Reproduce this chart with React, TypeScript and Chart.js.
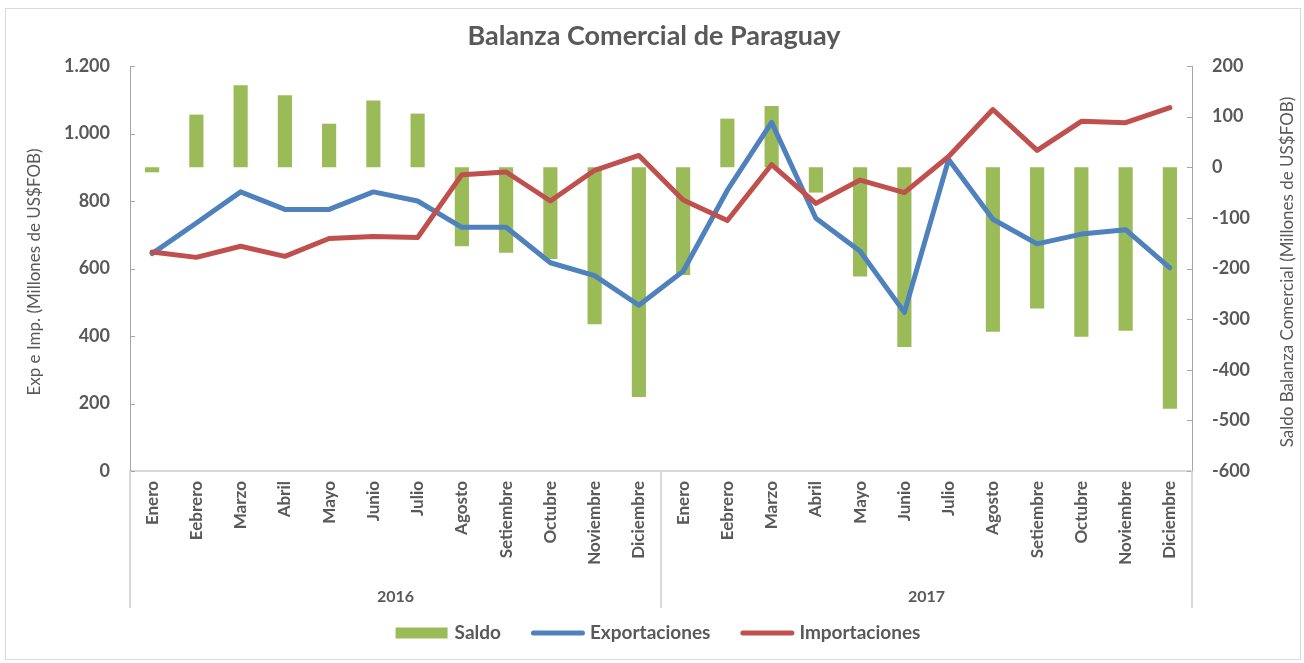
import React, { useEffect, useRef } from 'react';
import { Chart, registerables } from 'chart.js';

Chart.register(...registerables);

// Month labels (as printed on the axis) and the two year groups
const months = [
  'Enero', 'Eebrero', 'Marzo', 'Abril', 'Mayo', 'Junio',
  'Julio', 'Agosto', 'Setiembre', 'Octubre', 'Noviembre', 'Diciembre',
];
const years = ['2016', '2017'];
const categories = years.flatMap(() => months);

// Millones de US$ FOB
const saldo = [
  -10, 104, 162, 142, 86, 132, 106, -156, -169, -181, -310, -454,
  -213, 96, 121, -50, -216, -355, 0, -325, -279, -335, -323, -477,
];
const exportaciones = [
  644, 735, 827, 775, 775, 827, 800, 722, 722, 617, 579, 491,
  592, 832, 1033, 749, 651, 470, 923, 746, 673, 702, 715, 602,
];
const importaciones = [
  649, 633, 666, 636, 689, 695, 692, 878, 886, 800, 891, 935,
  803, 742, 908, 793, 862, 825, 932, 1071, 950, 1036, 1032, 1077,
];

const leftTicks = [0, 200, 400, 600, 800, 1000, 1200];
const rightTicks = [-600, -500, -400, -300, -200, -100, 0, 100, 200];

const TITLE = 'Balanza Comercial de Paraguay';
const LEFT_TITLE = 'Exp e Imp. (Millones de US$FOB)';
const RIGHT_TITLE = 'Saldo Balanza Comercial (Millones de US$FOB)';

const FONT = 'Lato, "Open Sans", "DejaVu Sans", sans-serif';
const TEXT = '#595959';
const GREEN = '#9bbb59';
const BLUE = '#4f81bd';
const RED = '#c0504d';
const AXIS = '#a6a6a6';
const LIGHT = '#d9d9d9';

const W = 1304;
const H = 663;

const fmtThousands = (v: number) =>
  String(v).replace(/\B(?=(\d{3})+(?!\d))/g, '.');

const decorations = {
  id: 'decorations',
  afterDraw(chart: any) {
    const { ctx, chartArea: a, scales } = chart;
    const xs = scales.x;
    ctx.save();

    // outer frame
    ctx.strokeStyle = LIGHT;
    ctx.lineWidth = 1;
    ctx.strokeRect(5.5, 8.5, 1295, 651);

    // title
    ctx.fillStyle = TEXT;
    ctx.textAlign = 'center';
    ctx.textBaseline = 'middle';
    ctx.font = `bold 27px ${FONT}`;
    ctx.fillText(TITLE, 654, 36);

    // axis titles, reading bottom to top
    ctx.font = `17px ${FONT}`;
    const vtext = (t: string, x: number, y: number) => {
      ctx.save();
      ctx.translate(x, y);
      ctx.rotate(-Math.PI / 2);
      ctx.fillText(t, 0, 0);
      ctx.restore();
    };
    vtext(LEFT_TITLE, 35, 272);
    vtext(RIGHT_TITLE, 1288, 272);

    // inside tick marks on both value axes
    ctx.strokeStyle = AXIS;
    ctx.lineWidth = 1;
    ctx.beginPath();
    leftTicks.forEach((v) => {
      const y = Math.round(scales.y.getPixelForValue(v)) + 0.5;
      ctx.moveTo(a.left, y);
      ctx.lineTo(a.left + 5, y);
    });
    rightTicks.forEach((v) => {
      const y = Math.round(scales.y1.getPixelForValue(v)) + 0.5;
      ctx.moveTo(a.right, y);
      ctx.lineTo(a.right - 5, y);
    });
    ctx.stroke();

    // year group separators and labels
    const n = months.length;
    const bounds = [a.left];
    for (let g = 1; g < years.length; g++) {
      bounds.push((xs.getPixelForValue(g * n - 1) + xs.getPixelForValue(g * n)) / 2);
    }
    bounds.push(a.right);
    ctx.strokeStyle = LIGHT;
    ctx.lineWidth = 2;
    ctx.beginPath();
    bounds.forEach((x) => {
      ctx.moveTo(x, a.bottom);
      ctx.lineTo(x, 608);
    });
    ctx.stroke();
    ctx.fillStyle = TEXT;
    ctx.font = `bold 16px ${FONT}`;
    years.forEach((yr, g) => {
      const cx = (xs.getPixelForValue(g * n) + xs.getPixelForValue(g * n + n - 1)) / 2;
      ctx.fillText(yr, cx, 597);
    });

    // legend
    ctx.font = `bold 19px ${FONT}`;
    ctx.textAlign = 'left';
    const items = [
      { label: 'Saldo', kind: 'box', color: GREEN },
      { label: 'Exportaciones', kind: 'line', color: BLUE },
      { label: 'Importaciones', kind: 'line', color: RED },
    ];
    const symW = 54;
    const gapSym = 5;
    const gapItem = 30;
    const widths = items.map((it) => symW + gapSym + ctx.measureText(it.label).width);
    const total = widths.reduce((s, w) => s + w, 0) + gapItem * (items.length - 1);
    let x = 658 - total / 2;
    const ly = 633;
    items.forEach((it, i) => {
      if (it.kind === 'box') {
        ctx.fillStyle = it.color;
        ctx.fillRect(x, ly - 5.5, symW - 2, 11);
      } else {
        ctx.strokeStyle = it.color;
        ctx.lineWidth = 5;
        ctx.lineCap = 'round';
        ctx.beginPath();
        ctx.moveTo(x + 2.5, ly);
        ctx.lineTo(x + symW - 2.5, ly);
        ctx.stroke();
      }
      ctx.fillStyle = TEXT;
      ctx.fillText(it.label, x + symW + gapSym, ly);
      x += widths[i] + gapItem;
    });

    ctx.restore();
  },
};

export default function App() {
  const ref = useRef<HTMLCanvasElement>(null);

  useEffect(() => {
    if (!ref.current) return;
    const chart = new Chart(ref.current, {
      type: 'bar',
      data: {
        labels: categories,
        datasets: [
          {
            type: 'line',
            label: 'Importaciones',
            data: importaciones,
            yAxisID: 'y',
            borderColor: RED,
            backgroundColor: RED,
            borderWidth: 5,
            pointRadius: 0,
            tension: 0,
            borderJoinStyle: 'round',
            borderCapStyle: 'round',
            order: 0,
          },
          {
            type: 'line',
            label: 'Exportaciones',
            data: exportaciones,
            yAxisID: 'y',
            borderColor: BLUE,
            backgroundColor: BLUE,
            borderWidth: 5,
            pointRadius: 0,
            tension: 0,
            borderJoinStyle: 'round',
            borderCapStyle: 'round',
            order: 1,
          },
          {
            type: 'bar',
            label: 'Saldo',
            data: saldo,
            yAxisID: 'y1',
            backgroundColor: GREEN,
            barPercentage: 0.32,
            categoryPercentage: 1,
            order: 2,
          },
        ],
      } as any,
      options: {
        responsive: false,
        animation: false,
        layout: { padding: { top: 66, left: 0, right: 0, bottom: 0 } },
        plugins: {
          legend: { display: false },
          title: { display: false },
          tooltip: { enabled: false },
        },
        scales: {
          x: {
            grid: { display: false, drawTicks: false },
            border: { display: true, color: LIGHT, width: 2 },
            ticks: {
              autoSkip: false,
              maxRotation: 90,
              minRotation: 90,
              padding: 10,
              color: TEXT,
              font: { family: FONT, size: 17, weight: 'bold' },
            },
            afterFit: (s: any) => {
              s.height = 192;
            },
          },
          y: {
            position: 'left',
            min: 0,
            max: 1200,
            grid: { display: false, drawTicks: false },
            border: { display: true, color: AXIS, width: 1 },
            ticks: {
              stepSize: 200,
              padding: 20,
              color: TEXT,
              font: { family: FONT, size: 18, weight: 'bold' },
              callback: (v: any) => fmtThousands(Number(v)),
            },
            afterFit: (s: any) => {
              s.width = 130;
            },
          },
          y1: {
            position: 'right',
            min: -600,
            max: 200,
            grid: { display: false, drawTicks: false },
            border: { display: true, color: AXIS, width: 1 },
            ticks: {
              stepSize: 100,
              padding: 20,
              color: TEXT,
              font: { family: FONT, size: 18, weight: 'bold' },
            },
            afterFit: (s: any) => {
              s.width = W - 1192;
            },
          },
        },
      } as any,
      plugins: [decorations],
    });
    return () => chart.destroy();
  }, []);

  return (
    <div
      style={{
        position: 'fixed',
        left: 0,
        top: 0,
        width: W,
        height: H,
        background: '#ffffff',
      }}
    >
      <canvas ref={ref} width={W} height={H} style={{ display: 'block' }} />
    </div>
  );
}
